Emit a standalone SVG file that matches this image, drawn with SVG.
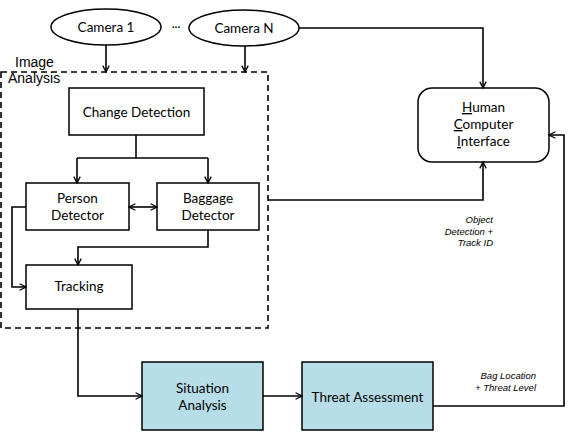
<svg xmlns="http://www.w3.org/2000/svg" width="568" height="440" viewBox="0 0 568 440">
<defs>
<marker id="ah" viewBox="0 0 10 10" refX="9" refY="5" markerWidth="8" markerHeight="8" markerUnits="userSpaceOnUse" orient="auto-start-reverse">
<path d="M1,1 L9,5 L1,9" fill="none" stroke="#000" stroke-width="1.6"/>
</marker>
</defs>
<style>
.box{fill:#fff;stroke:#000;stroke-width:1.5}
.blue{fill:#b7dde8;stroke:#000;stroke-width:1.5}
.t{font-family:Lato,"Liberation Sans",sans-serif;font-size:13.5px;fill:#000;text-anchor:middle}
.lbl{font-family:"Liberation Sans",Arial,sans-serif;font-size:9.5px;font-style:italic;fill:#000;text-anchor:end}
.c{fill:none;stroke:#000;stroke-width:1.6}
.a{marker-end:url(#ah)}
</style>
<g id="image-analysis">
<rect x="1" y="72" width="267" height="256" fill="none" stroke="#000" stroke-width="1.6" stroke-dasharray="6,4"/>
<text x="15" y="67" font-family="'Liberation Sans',Arial,sans-serif" font-size="14">Image</text>
<text x="8" y="83" font-family="'Liberation Sans',Arial,sans-serif" font-size="14">Analysis</text>
</g>
<g id="camera1">
<ellipse cx="106" cy="27" rx="55" ry="18" class="box"/>
<text x="106" y="32" class="t">Camera 1</text>
</g>
<text x="176" y="31" font-family="Lato,sans-serif" font-size="11" text-anchor="middle">···</text>
<g id="cameraN">
<ellipse cx="244" cy="28" rx="55" ry="18" class="box"/>
<text x="244" y="33" class="t">Camera N</text>
</g>
<g id="change-detection">
<rect x="69" y="88" width="135" height="47" class="box"/>
<text x="136.5" y="117" class="t">Change Detection</text>
</g>
<g id="person-detector">
<rect x="26" y="183" width="103" height="47" class="box"/>
<text x="77.5" y="203" class="t">Person</text>
<text x="77.5" y="220" class="t">Detector</text>
</g>
<g id="baggage-detector">
<rect x="157" y="183" width="102" height="47" class="box"/>
<text x="208" y="203" class="t">Baggage</text>
<text x="208" y="220" class="t">Detector</text>
</g>
<g id="tracking">
<rect x="26" y="265" width="106" height="44" class="box"/>
<text x="79" y="291" class="t">Tracking</text>
</g>
<g id="situation-analysis">
<rect x="142" y="362" width="121" height="68" class="blue"/>
<text x="202.5" y="393" class="t">Situation</text>
<text x="202.5" y="410" class="t">Analysis</text>
</g>
<g id="threat-assessment">
<rect x="302" y="362" width="131" height="68" class="blue"/>
<text x="367.5" y="402" class="t">Threat Assessment</text>
</g>
<g id="hci">
<rect x="418" y="88" width="131" height="74" rx="14" ry="14" class="box"/>
<text x="483.5" y="112" class="t"><tspan text-decoration="underline">H</tspan>uman</text>
<text x="483.5" y="129" class="t"><tspan text-decoration="underline">C</tspan>omputer</text>
<text x="483.5" y="146" class="t"><tspan text-decoration="underline">I</tspan>nterface</text>
</g>
<g id="connectors">
<path d="M106,45 V72" class="c a"/>
<path d="M245,46 V72" class="c a"/>
<path d="M299,28 H483 V88" class="c a"/>
<path d="M136,135 V158" class="c"/>
<path d="M77,158 H208" class="c"/>
<path d="M77,158 V183" class="c a"/>
<path d="M208,158 V183" class="c a"/>
<path d="M129,207 H157" class="c a" marker-start="url(#ah)"/>
<path d="M208,230 V247 H78 V265" class="c a"/>
<path d="M26,207 H12 V287 H26" class="c a"/>
<path d="M78,309 V396 H142" class="c a"/>
<path d="M263,396 H302" class="c a"/>
<path d="M268,200 H483 V162" class="c a"/>
<path d="M433,406 H564 V135 H549" class="c a"/>
<text class="lbl"><tspan x="493" y="223">Object</tspan><tspan x="493" y="235">Detection +</tspan><tspan x="493" y="246">Track ID</tspan></text>
<text class="lbl"><tspan x="536" y="379">Bag Location</tspan><tspan x="536" y="391">+ Threat Level</tspan></text>
</g>
</svg>
